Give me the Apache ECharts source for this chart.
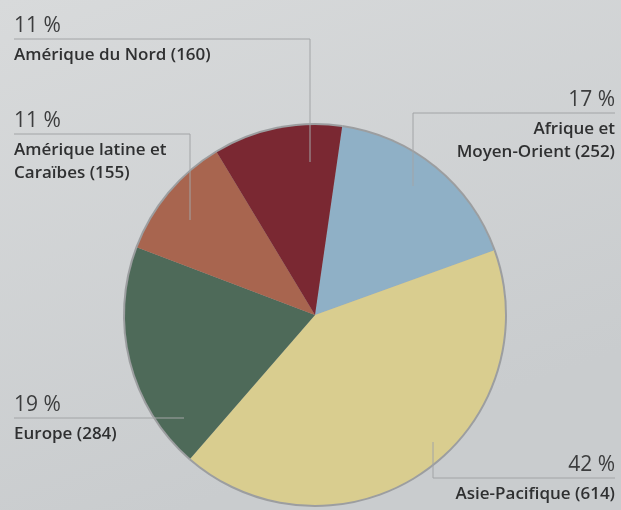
<!DOCTYPE html>
<html>
<head>
<meta charset="utf-8">
<script src="https://cdn.jsdelivr.net/npm/echarts@6/dist/echarts.min.js"></script>
<style>
html,body{margin:0;padding:0;}
#chart{width:621px;height:510px;}
</style>
</head>
<body>
<div id="chart"></div>
<script>
// Data (clockwise from the slice just right of 12 o'clock)
const regions = ['Afrique et Moyen-Orient', 'Asie-Pacifique', 'Europe', 'Amérique latine et Caraïbes', 'Amérique du Nord'];
const counts = [252, 614, 284, 155, 160];

// Styling / layout (kept separate from data)
const sliceColors = ['#8fb0c6', '#d9cd8f', '#4e6a59', '#a8654f', '#7a2832'];
const wrapAfterWords = [2, 0, 0, 3, 0];
const labelBoxes = [
  {x: 615, line: 113, align: 'right', pts: [[413, 186], [413, 113], [615, 113]]},
  {x: 615, line: 478, align: 'right', pts: [[433, 442], [433, 478], [615, 478]]},
  {x: 14, line: 418, align: 'left', pts: [[184, 418], [184, 418], [14, 418]]},
  {x: 14, line: 134, align: 'left', pts: [[190, 220], [190, 134], [14, 134]]},
  {x: 14, line: 39, align: 'left', pts: [[310, 162], [310, 39], [14, 39]]}
];

function labelText(params) {
  const i = params.dataIndex;
  const txt = params.name + ' (' + params.value + ')';
  const words = txt.split(' ');
  let lines = [txt];
  if (wrapAfterWords[i] > 0) {
    lines = [words.slice(0, wrapAfterWords[i]).join(' '), words.slice(wrapAfterWords[i]).join(' ')];
  }
  return '{p|' + Math.round(params.percent) + ' %}\n' + lines.map(l => '{n|' + l + '}').join('\n');
}

const pieBase = {
  type: 'pie',
  silent: true,
  center: [315, 315],
  startAngle: 81.8,
  clockwise: true,
  avoidLabelOverlap: false
};

const chart = echarts.init(document.getElementById('chart'), null, {renderer: 'canvas'});
chart.setOption({
  animation: false,
  backgroundColor: {
    type: 'linear', x: 0, y: 0, x2: 0.3, y2: 1,
    colorStops: [{offset: 0, color: '#d8dadb'}, {offset: 1, color: '#c9ccce'}]
  },
  series: [
    Object.assign({}, pieBase, {
      radius: 192,
      z: 1,
      label: {show: false},
      labelLine: {show: false},
      itemStyle: {color: '#9c9ea0', borderWidth: 0},
      data: regions.map((r, i) => ({name: r, value: counts[i]}))
    }),
    Object.assign({}, pieBase, {
      radius: 190,
      z: 2,
      label: {show: false},
      labelLine: {show: false},
      itemStyle: {borderWidth: 0},
      data: regions.map((r, i) => ({name: r, value: counts[i], itemStyle: {color: sliceColors[i]}}))
    }),
    Object.assign({}, pieBase, {
      radius: 190,
      z: 3,
      itemStyle: {color: 'rgba(0,0,0,0)', borderWidth: 0},
      label: {
        show: true,
        position: 'outside',
        formatter: labelText,
        rich: {
          p: {fontFamily: 'Open Sans', fontSize: 21, fontWeight: 400, color: '#3c3d3e', lineHeight: 35},
          n: {fontFamily: 'Open Sans', fontSize: 17, fontWeight: 600, color: '#2f3031', lineHeight: 23}
        }
      },
      labelLine: {show: true, showAbove: true, lineStyle: {color: '#a2a4a6', width: 1}},
      labelLayout: function (params) {
        const b = labelBoxes[params.dataIndex];
        return {
          x: b.x,
          y: b.line - 30,
          align: b.align,
          verticalAlign: 'top',
          labelLinePoints: b.pts
        };
      },
      data: regions.map((r, i) => ({name: r, value: counts[i]}))
    })
  ]
});
</script>
</body>
</html>
